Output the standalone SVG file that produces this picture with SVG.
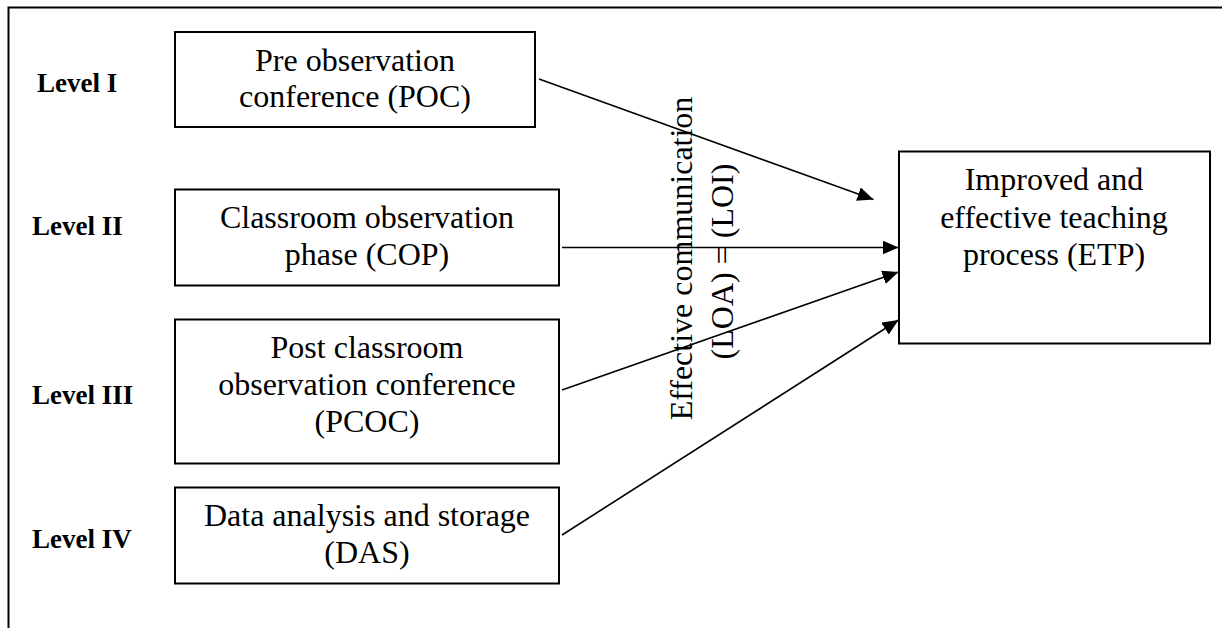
<svg xmlns="http://www.w3.org/2000/svg" width="1222" height="628" viewBox="0 0 1222 628">
<style>
.box{fill:#fff;stroke:#000;stroke-width:2}
.t{font-family:"Liberation Serif","Times New Roman",serif;font-size:32px;fill:#000;text-anchor:middle}
.lv{font-family:"Liberation Serif","Times New Roman",serif;font-size:27px;font-weight:bold;fill:#000}
.c{stroke:#000;stroke-width:1.6;fill:none}
</style>
<defs>
<marker id="ah" markerUnits="userSpaceOnUse" markerWidth="16" markerHeight="14" refX="16" refY="7" orient="auto">
<polygon points="0,0 16,7 0,14" fill="#000"/>
</marker>
</defs>
<rect width="1222" height="628" fill="#fff"/>
<path d="M8.5,628 V7.5 H1222" stroke="#000" stroke-width="2" fill="none"/>
<g id="levels">
<text class="lv" x="37" y="92">Level I</text>
<text class="lv" x="32" y="235">Level II</text>
<text class="lv" x="32" y="404">Level III</text>
<text class="lv" x="32" y="548">Level IV</text>
</g>
<g id="poc">
<rect class="box" x="175" y="32" width="360" height="95"/>
<text class="t" x="355" y="71">Pre observation</text>
<text class="t" x="355" y="107">conference (POC)</text>
</g>
<g id="cop">
<rect class="box" x="175" y="189.5" width="384" height="96"/>
<text class="t" x="367" y="228">Classroom observation</text>
<text class="t" x="367" y="265">phase (COP)</text>
</g>
<g id="pcoc">
<rect class="box" x="175" y="319.5" width="384" height="144"/>
<text class="t" x="367" y="358">Post classroom</text>
<text class="t" x="367" y="395">observation conference</text>
<text class="t" x="367" y="432">(PCOC)</text>
</g>
<g id="das">
<rect class="box" x="175" y="487.5" width="384" height="96"/>
<text class="t" x="367" y="526">Data analysis and storage</text>
<text class="t" x="367" y="563">(DAS)</text>
</g>
<g id="etp">
<rect class="box" x="899" y="151.5" width="311" height="192"/>
<text class="t" x="1054" y="190">Improved and</text>
<text class="t" x="1054" y="228">effective teaching</text>
<text class="t" x="1054" y="265">process (ETP)</text>
</g>
<g id="connectors">
<line class="c" x1="539" y1="79" x2="873.5" y2="199.5" marker-end="url(#ah)"/>
<line class="c" x1="562" y1="247.5" x2="898.5" y2="247.5" marker-end="url(#ah)"/>
<line class="c" x1="562" y1="390" x2="898.5" y2="272" marker-end="url(#ah)"/>
<line class="c" x1="562" y1="535" x2="898.5" y2="320" marker-end="url(#ah)"/>
</g>
<g id="label">
<text class="t" transform="translate(692,258.5) rotate(-90)">Effective communication</text>
<text class="t" transform="translate(733,261.5) rotate(-90)">(LOA) = (LOI)</text>
</g>
</svg>
